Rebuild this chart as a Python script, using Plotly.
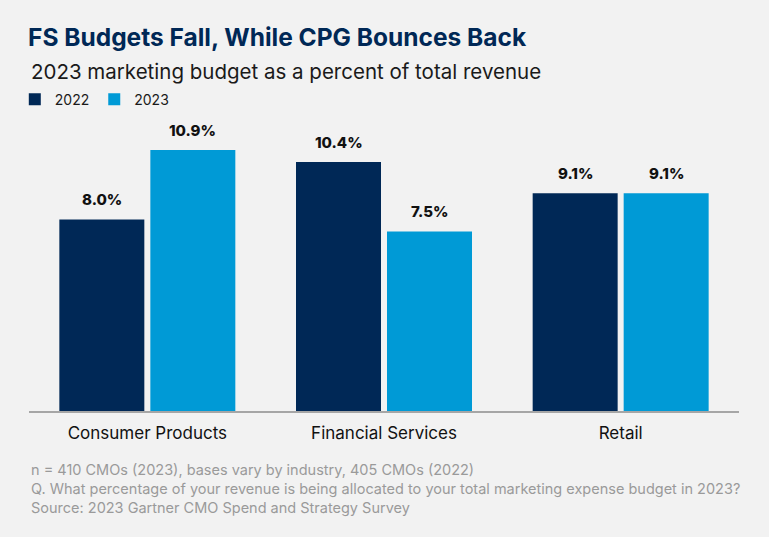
import plotly.graph_objects as go

categories = ["Consumer Products", "Financial Services", "Retail"]
budget_2022 = [8.0, 10.4, 9.1]
budget_2023 = [10.9, 7.5, 9.1]
series_names = ["2022", "2023"]

NAVY = "#002856"
BLUE = "#009ad6"
BG = "#f2f2f2"
FONT = "Inter, Roboto, Arial, sans-serif"

fig = go.Figure()
fig.add_trace(go.Bar(x=categories, y=budget_2022, name=series_names[0],
                     marker=dict(color=NAVY, line=dict(width=0))))
fig.add_trace(go.Bar(x=categories, y=budget_2023, name=series_names[1],
                     marker=dict(color=BLUE, line=dict(width=0))))

# value labels above the bars
for vals, shift in [(budget_2022, -45.5), (budget_2023, 45.5)]:
    for cat, v in zip(categories, vals):
        fig.add_annotation(x=cat, y=v, xref="x", yref="y", xshift=shift,
                           yanchor="bottom", yshift=8, showarrow=False,
                           text="%.1f%%" % v,
                           font=dict(family=FONT, size=15, color="#111111", weight=800))

fig.add_annotation(xref="paper", yref="paper", x=0, y=1.165, xanchor="left",
                   yanchor="middle", showarrow=False,
                   text="2023 marketing budget as a percent of total revenue",
                   font=dict(family=FONT, size=20.5, color="#1a1a1a"))

fig.add_annotation(xref="paper", yref="paper", x=0, y=-0.165, xanchor="left",
                   yanchor="top", showarrow=False, align="left",
                   text="n = 410 CMOs (2023), bases vary by industry, 405 CMOs (2022)<br>"
                        "Q. What percentage of your revenue is being allocated to your total marketing expense budget in 2023?<br>"
                        "Source: 2023 Gartner CMO Spend and Strategy Survey",
                   font=dict(family=FONT, size=14.5, color="#9a9a9a"))

fig.update_layout(
    width=769, height=537,
    paper_bgcolor=BG, plot_bgcolor=BG,
    margin=dict(l=29, r=30, t=120, b=126),
    barmode="group", bargap=0.231, bargroupgap=0.066,
    title=dict(text="<b>FS Budgets Fall, While CPG Bounces Back</b>",
               x=28 / 769, xanchor="left", y=1 - 37 / 537, yanchor="middle",
               font=dict(family=FONT, size=24.5, color=NAVY, weight=800)),
    legend=dict(orientation="h", x=-0.02, xanchor="left", y=1.07, yanchor="middle",
                font=dict(family=FONT, size=14, color="#1a1a1a"),
                bgcolor="rgba(0,0,0,0)", traceorder="normal",
                itemwidth=30),
    xaxis=dict(showline=True, linecolor="#a6a6a6", linewidth=2, ticks="",
               tickfont=dict(family=FONT, size=17, color="#111111"),
               ticklabelstandoff=6, showgrid=False, fixedrange=True),
    yaxis=dict(range=[0, 12.155], visible=False, showgrid=False, zeroline=False),
    showlegend=True,
)

fig.write_html("out.html", config={"displayModeBar": False},
               post_script="document.body.style.margin='0';")
